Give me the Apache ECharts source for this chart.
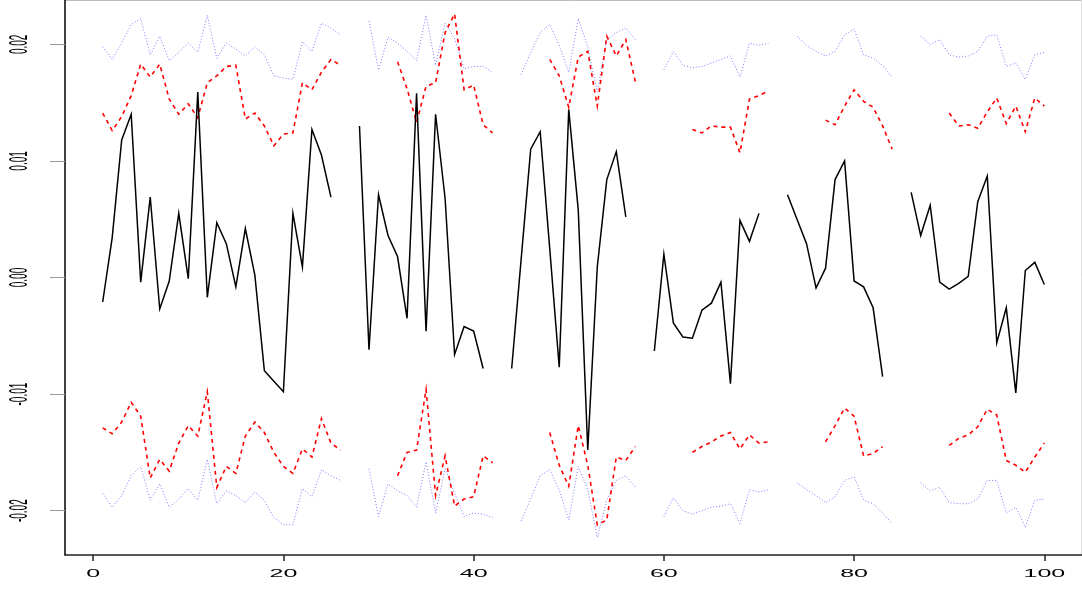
<!DOCTYPE html>
<html>
<head>
<meta charset="utf-8">
<script src="https://cdn.jsdelivr.net/npm/echarts@6/dist/echarts.min.js"></script>
<style>
html,body{margin:0;padding:0;background:#fff;}
#chart{width:1082px;height:590px;}
</style>
</head>
<body>
<div id="chart"></div>
<script>
const N = null;
const xTicks = [0, 20, 40, 60, 80, 100];
const yTicks = [-0.02, -0.01, 0.00, 0.01, 0.02];
const xTickLabels = ['0', '20', '40', '60', '80', '100'];
const yTickLabels = ['-0.02', '-0.01', '0.00', '0.01', '0.02'];

const center = [
 -0.0021, 0.0034, 0.0118, 0.0140, -0.0004, 0.0069, -0.0027, -0.0003, 0.0055, -0.0001,
  0.0159, -0.0017, 0.0047, 0.0029, -0.0008, 0.0042, 0.0002, -0.0080, -0.0089, -0.0098,
  0.0055, 0.0009, 0.0127, 0.0105, 0.0069, N, N, 0.0130, -0.0062, 0.0071,
  0.0036, 0.0018, -0.0035, 0.0158, -0.0046, 0.0140, 0.0068, -0.0066, -0.0042, -0.0046,
 -0.0078, N, N, -0.0078, 0.0016, 0.0110, 0.0125, 0.0025, -0.0077, 0.0144,
  0.0058, -0.0148, 0.0009, 0.0084, 0.0108, 0.0052, N, N, -0.0063, 0.0020,
 -0.0039, -0.0051, -0.0052, -0.0028, -0.0022, -0.0004, -0.0091, 0.0049, 0.0031, 0.0055,
  N, N, 0.0071, 0.0050, 0.0029, -0.0009, 0.0008, 0.0084, 0.0100, -0.0003,
 -0.0008, -0.0026, -0.0085, N, N, 0.0073, 0.0036, 0.0062, -0.0004, -0.0010,
 -0.0005, 0.0001, 0.0065, 0.0087, -0.0056, -0.0026, -0.0099, 0.0006, 0.0013, -0.0006
];

const redUpper = [
  0.0141, 0.0126, 0.0138, 0.0156, 0.0183, 0.0172, 0.0183, 0.0153, 0.0140, 0.0149,
  0.0137, 0.0167, 0.0173, 0.0181, 0.0182, 0.0136, 0.0141, 0.0130, 0.0113, 0.0123,
  0.0124, 0.0167, 0.0161, 0.0176, 0.0187, 0.0182, N, N, N, N,
  N, 0.0185, 0.0162, 0.0133, 0.0164, 0.0167, 0.0210, 0.0226, 0.0161, 0.0165,
  0.0131, 0.0124, N, N, N, N, N, 0.0187, 0.0173, 0.0146,
  0.0189, 0.0194, 0.0147, 0.0207, 0.0190, 0.0204, 0.0168, N, N, N,
  N, N, 0.0127, 0.0124, 0.0130, 0.0129, 0.0129, 0.0107, 0.0153, 0.0156,
  0.0160, N, N, N, N, N, 0.0135, 0.0131, 0.0147, 0.0161,
  0.0151, 0.0146, 0.0130, 0.0110, N, N, N, N, N, 0.0141,
  0.0130, 0.0131, 0.0128, 0.0142, 0.0154, 0.0132, 0.0147, 0.0125, 0.0154, 0.0147
];

const redLower = [
 -0.0129, -0.0134, -0.0124, -0.0107, -0.0119, -0.0172, -0.0156, -0.0166, -0.0142, -0.0127,
 -0.0136, -0.0098, -0.0180, -0.0162, -0.0168, -0.0136, -0.0124, -0.0133, -0.0150, -0.0162,
 -0.0168, -0.0147, -0.0154, -0.0121, -0.0142, -0.0148, N, N, N, N,
  N, -0.0170, -0.0150, -0.0148, -0.0096, -0.0187, -0.0153, -0.0196, -0.0190, -0.0188,
 -0.0153, -0.0159, N, N, N, N, N, -0.0133, -0.0161, -0.0179,
 -0.0127, -0.0161, -0.0212, -0.0208, -0.0154, -0.0157, -0.0145, N, N, N,
  N, N, -0.0150, -0.0145, -0.0141, -0.0136, -0.0133, -0.0147, -0.0135, -0.0142,
 -0.0141, N, N, N, N, N, -0.0141, -0.0127, -0.0112, -0.0119,
 -0.0153, -0.0151, -0.0145, N, N, N, N, N, N, -0.0144,
 -0.0138, -0.0135, -0.0128, -0.0113, -0.0118, -0.0157, -0.0161, -0.0167, -0.0154, -0.0142
];

const blueUpper = [
  0.0198, 0.0187, 0.0201, 0.0217, 0.0222, 0.0191, 0.0207, 0.0186, 0.0193, 0.0201,
  0.0193, 0.0225, 0.0188, 0.0201, 0.0196, 0.0190, 0.0198, 0.0191, 0.0173, 0.0171,
  0.0170, 0.0202, 0.0194, 0.0218, 0.0214, 0.0208, N, N, 0.0220, 0.0178,
  0.0206, 0.0201, 0.0194, 0.0186, 0.0225, 0.0182, 0.0218, 0.0205, 0.0179, 0.0181,
  0.0181, 0.0176, N, N, 0.0174, 0.0193, 0.0210, 0.0217, 0.0199, 0.0176,
  0.0222, 0.0198, 0.0159, 0.0204, 0.0210, 0.0214, 0.0204, N, N, 0.0178,
  0.0194, 0.0182, 0.0180, 0.0181, 0.0184, 0.0187, 0.0190, 0.0172, 0.0201, 0.0199,
  0.0201, N, N, 0.0207, 0.0199, 0.0194, 0.0190, 0.0194, 0.0208, 0.0213,
  0.0191, 0.0188, 0.0182, 0.0172, N, N, 0.0207, 0.0200, 0.0204, 0.0191,
  0.0189, 0.0190, 0.0194, 0.0207, 0.0208, 0.0181, 0.0184, 0.0170, 0.0191, 0.0193
];

const blueLower = [
 -0.0185, -0.0197, -0.0187, -0.0170, -0.0162, -0.0191, -0.0177, -0.0197, -0.0190, -0.0181,
 -0.0191, -0.0156, -0.0194, -0.0183, -0.0187, -0.0193, -0.0184, -0.0191, -0.0206, -0.0212,
 -0.0212, -0.0181, -0.0188, -0.0165, -0.0170, -0.0174, N, N, -0.0164, -0.0205,
 -0.0177, -0.0183, -0.0187, -0.0197, -0.0158, -0.0202, -0.0164, -0.0185, -0.0205, -0.0202,
 -0.0203, -0.0206, N, N, -0.0209, -0.0190, -0.0170, -0.0165, -0.0182, -0.0208,
 -0.0162, -0.0182, -0.0223, -0.0191, -0.0174, -0.0170, -0.0180, N, N, -0.0205,
 -0.0189, -0.0200, -0.0203, -0.0200, -0.0197, -0.0196, -0.0194, -0.0211, -0.0182, -0.0184,
 -0.0182, N, N, -0.0176, -0.0182, -0.0187, -0.0193, -0.0188, -0.0174, -0.0171,
 -0.0191, -0.0194, -0.0202, -0.0211, N, N, -0.0176, -0.0183, -0.0180, -0.0193,
 -0.0194, -0.0194, -0.0190, -0.0174, -0.0174, -0.0202, -0.0197, -0.0214, -0.0191, -0.0190
];

function pairs(arr) {
  return arr.map((v, i) => [i + 1, v === null ? '-' : v]);
}

const chart = echarts.init(document.getElementById('chart'), null, {renderer: 'canvas'});

function lineSeries(arr, color, width, type, z) {
  return {
    type: 'line', data: pairs(arr), showSymbol: false, symbol: 'none',
    connectNulls: false, animation: false, z: z,
    lineStyle: {color: color, width: width, type: type, cap: 'butt', join: 'miter'}
  };
}

chart.setOption({
  animation: false,
  backgroundColor: '#fff',
  grid: {left: 65, right: 0, top: 0, bottom: 35, containLabel: false},
  xAxis: {
    type: 'value', min: -2.96, max: 103.96,
    splitLine: {show: false},
    axisLine: {show: true, onZero: false, lineStyle: {color: '#222', width: 1.5}},
    axisTick: {show: true, length: 6, customValues: xTicks, lineStyle: {color: '#222', width: 1.5}},
    axisLabel: {show: false}
  },
  yAxis: {
    type: 'value', min: -0.0238, max: 0.0238,
    splitLine: {show: false},
    axisLine: {show: true, onZero: false, lineStyle: {color: '#000', width: 1.5}},
    axisTick: {show: true, length: 15, customValues: yTicks, lineStyle: {color: '#999', width: 1}},
    axisLabel: {show: false}
  },
  series: [
    lineSeries(blueUpper, '#7b7bff', 1, [1, 2], 1),
    lineSeries(blueLower, '#7b7bff', 1, [1, 2], 1),
    lineSeries(redUpper, '#ff0000', 1.6, [4, 4], 2),
    lineSeries(redLower, '#ff0000', 1.6, [4, 4], 2),
    lineSeries(center, '#000000', 1.5, 'solid', 3)
  ]
});

// Tick labels: the reference's text is stretched horizontally, so draw them as
// scaled text placed with the chart's own axis scales.
const fontFam = 'Liberation Sans, Arial, sans-serif';
const graphics = [
  {type: 'line', shape: {x1: 65, y1: 0.5, x2: 1082, y2: 0.5}, style: {stroke: '#bbb', lineWidth: 1}, silent: true},
  {type: 'line', shape: {x1: 1081.5, y1: 0, x2: 1081.5, y2: 555}, style: {stroke: '#ddd', lineWidth: 1}, silent: true}
];
xTicks.forEach((v, i) => {
  const p = chart.convertToPixel({gridIndex: 0}, [v, 0]);
  graphics.push({
    type: 'text', x: p[0], y: 574, scaleX: 2.5, scaleY: 1, silent: true,
    style: {text: xTickLabels[i], fontFamily: fontFam, fontSize: 10, fill: '#000',
            align: 'center', verticalAlign: 'middle'}
  });
});
yTicks.forEach((v, i) => {
  const p = chart.convertToPixel({gridIndex: 0}, [0, v]);
  graphics.push({
    type: 'text', x: 20, y: p[1], rotation: Math.PI / 2, scaleX: 1, scaleY: 2.5, silent: true,
    style: {text: yTickLabels[i], fontFamily: fontFam, fontSize: 10, fill: '#000',
            align: 'center', verticalAlign: 'middle'}
  });
});
chart.setOption({graphic: graphics});
</script>
</body>
</html>
